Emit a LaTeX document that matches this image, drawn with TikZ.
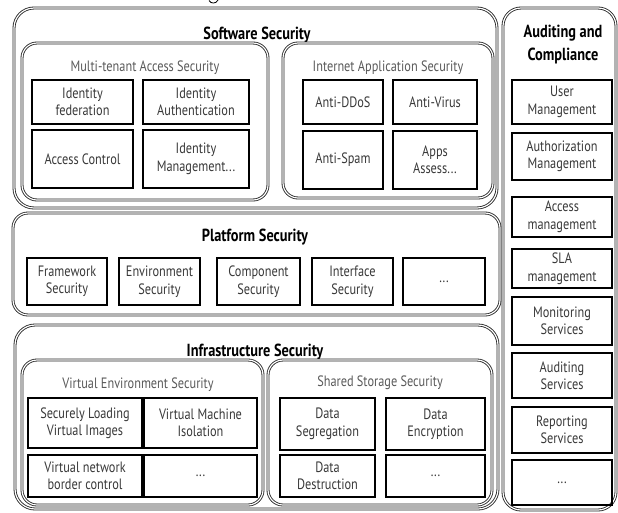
\documentclass[tikz,border=0pt]{standalone}
\usepackage{fontspec}
\setmainfont[FakeStretch=0.82]{PT Sans}
\newcommand\mycell[6]{\node[cell, minimum width={(#4-#2)*1pt}, minimum height={(#5-#3)*1pt}] (#1) at ({(#2+#4)/2},{(#3+#5)/2}) {#6};}
\newcommand\myrbox[6]{\node[rbox=#6, minimum width={(#4-#2)*1pt}, minimum height={(#5-#3)*1pt}] (#1) at ({(#2+#4)/2},{(#3+#5)/2}) {};}
\tikzset{
 rbox/.style={draw=black!85, double, double distance=1.2pt, line width=0.85pt, rounded corners=#1, inner sep=0},
 cell/.style={draw=black, line width=1.8pt, align=center, text=black!78, inner sep=0, font=\fontsize{15}{17.5}\selectfont},
 ttl/.style={font=\bfseries\fontsize{17.5}{23}\selectfont, text=black, inner sep=0, align=center},
 sttl/.style={font=\fontsize{15}{17}\selectfont, text=black!65, inner sep=0},
}
\begin{document}
\begin{tikzpicture}[x=1pt,y=-1pt]
\useasboundingbox (0,0) rectangle (618,512);
\draw[line width=0.8pt] (209,0.5) .. controls (211,4) and (216,4) .. (218,0);
% Software security
\myrbox{sw}{14}{8}{497}{208}{20pt}
\node[ttl] (swt) at (257,35) {Software Security};
\myrbox{mt}{22}{43}{268}{200}{15pt}
\node[sttl] (mtt) at (145,68) {Multi-tenant Access Security};
\mycell{idf}{32}{80}{133}{124}{Identity\\federation}
\mycell{ida}{143}{80}{249}{124}{Identity\\Authentication}
\mycell{acc}{32}{130}{133}{188}{Access Control}
\mycell{idm}{143}{130}{249}{188}{Identity\\Management...}
\myrbox{ia}{283}{43}{493}{198}{15pt}
\node[sttl] (iat) at (388,68) {Internet Application Security};
\mycell{ddos}{303}{80}{383}{124}{Anti-DDoS}
\mycell{virus}{393}{80}{477}{124}{Anti-Virus}
\mycell{spam}{303}{131}{383}{189}{Anti-Spam}
\mycell{apps}{393}{131}{477}{189}{Apps\\Assess...}
% Platform security
\myrbox{pf}{13}{213}{500}{315}{15pt}
\node[ttl] (pft) at (255,237) {Platform Security};
\mycell{fw}{27}{258}{107}{305}{Framework\\Security}
\mycell{env}{119}{258}{200}{305}{Environment\\Security}
\mycell{comp}{217}{258}{300}{305}{Component\\Security}
\mycell{intf}{312}{258}{393}{305}{Interface\\Security}
\mycell{pfx}{403}{258}{485}{305}{...}
% Infrastructure security
\myrbox{inf}{15}{325}{498}{509}{20pt}
\node[ttl] (inft) at (255,352) {Infrastructure Security};
\myrbox{ve}{22}{360}{263}{505}{15pt}
\node[sttl] (vet) at (138,385) {Virtual Environment Security};
\mycell{slv}{28}{398}{142}{448}{Securely Loading\\Virtual Images}
\mycell{vmi}{144}{398}{257}{448}{Virtual Machine\\Isolation}
\mycell{vnb}{28}{455}{142}{497}{Virtual network\\border control}
\mycell{vex}{144}{455}{257}{497}{...}
\myrbox{ss}{268}{360}{492}{505}{15pt}
\node[sttl] (sst) at (380,383) {Shared Storage Security};
\mycell{dseg}{280}{398}{375}{450}{Data\\Segregation}
\mycell{denc}{386}{398}{485}{450}{Data\\Encryption}
\mycell{ddes}{280}{455}{375}{497}{Data\\Destruction}
\mycell{ssx}{386}{455}{485}{497}{...}
% Auditing and compliance
\myrbox{ac}{503}{8}{616}{510}{18pt}
\node[ttl] (act) at (563,45) {Auditing and\\Compliance};
\mycell{um}{512}{80}{612}{124}{User\\Management}
\mycell{am}{512}{133}{612}{180}{Authorization\\Management}
\mycell{acm}{512}{197}{612}{237}{Access\\management}
\mycell{sla}{512}{249}{612}{288}{SLA\\management}
\mycell{mon}{512}{297}{612}{345}{Monitoring\\Services}
\mycell{aud}{512}{353}{612}{398}{Auditing\\Services}
\mycell{rep}{512}{407}{612}{453}{Reporting\\Services}
\mycell{acx}{512}{460}{612}{505}{...}
\end{tikzpicture}
\end{document}
